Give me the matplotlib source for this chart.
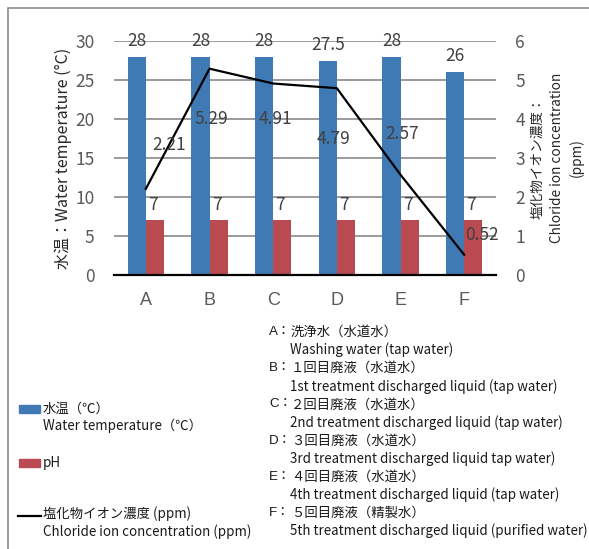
import matplotlib
matplotlib.use("Agg")
import matplotlib.pyplot as plt
from matplotlib.patches import Rectangle
from matplotlib.lines import Line2D
import numpy as np

plt.rcParams['font.family'] = ['Noto Sans CJK JP', 'DejaVu Sans']

# ---- data ----
categories = ['A', 'B', 'C', 'D', 'E', 'F']
water_temp = [28, 28, 28, 27.5, 28, 26]
ph_values = [7, 7, 7, 7, 7, 7]
chloride = [2.21, 5.29, 4.91, 4.79, 2.57, 0.52]

key_labels_jp = ['洗浄水（水道水）', '１回目廃液（水道水）', '２回目廃液（水道水）',
                 '３回目廃液（水道水）', '４回目廃液（水道水）', '５回目廃液（精製水）']
key_labels_en = ['Washing water (tap water)',
                 '1st treatment discharged liquid (tap water)',
                 '2nd treatment discharged liquid (tap water)',
                 '3rd treatment discharged liquid tap water)',
                 '4th treatment discharged liquid (tap water)',
                 '5th treatment discharged liquid (purified water)']

BLUE = '#3F7AB4'
RED = '#BA4A51'
GRAY_TXT = '#595959'
LBL_TXT = '#404040'

W, H = 589, 549
fig = plt.figure(figsize=(W / 100, H / 100), dpi=100)


def fx(px):
    return px / W


def fy(py):
    return 1 - py / H


# outer frame
fig.patches.append(Rectangle((fx(7.5), -0.05), 1.2, fy(8) + 0.05,
                             transform=fig.transFigure, fill=False,
                             edgecolor='#8c8c8c', linewidth=1.2))

ax = fig.add_axes([fx(114), fy(275), fx(496) - fx(114), fy(41) - fy(275)])
ax2 = ax.twinx()

x = np.arange(len(categories))
bw = 0.285
b1 = ax.bar(x - bw / 2, water_temp, bw, color=BLUE, zorder=3)
b2 = ax.bar(x + bw / 2, ph_values, bw, color=RED, zorder=3)

ax.set_xlim(-0.5, len(categories) - 0.5)
ax.set_ylim(0, 30)
ax.set_yticks(range(0, 31, 5))
ax.yaxis.grid(True, color='#808080', linewidth=1.1, zorder=0)
ax.set_axisbelow(True)
for s in ['top', 'right', 'left']:
    ax.spines[s].set_visible(False)
ax.spines['bottom'].set_color('black')
ax.spines['bottom'].set_linewidth(1.6)
ax.spines['bottom'].set_zorder(5)
ax.tick_params(axis='both', length=0, labelsize=12.5, labelcolor=GRAY_TXT)
ax.tick_params(axis='y', pad=14)
ax.tick_params(axis='x', pad=12)
ax.set_xticks(x)
ax.set_xticklabels(categories, family='Liberation Sans', fontsize=13)

ax.set_ylabel('水温：Water temperature (°C)', fontsize=11.5, color='#262626',
              labelpad=2.5)

for rect, v in zip(b1, water_temp):
    ax.annotate(f'{v:g}', (rect.get_x() + rect.get_width() / 2, v),
                xytext=(0, 16), textcoords='offset pixels', ha='center',
                va='center', fontsize=12.5, color=LBL_TXT, zorder=6)
for rect, v in zip(b2, ph_values):
    ax.annotate(f'{v:g}', (rect.get_x() + rect.get_width() / 2, v),
                xytext=(-2, 15), textcoords='offset pixels', ha='center',
                va='center', fontsize=12.5, color=LBL_TXT, zorder=6)

# chloride line on the secondary axis
ax2.plot(x, chloride, color='black', linewidth=1.6, zorder=4)
ax2.set_ylim(0, 6)
ax2.set_yticks(range(0, 7))
for s in ax2.spines.values():
    s.set_visible(False)
ax2.tick_params(axis='y', length=0, labelsize=12.5, labelcolor=GRAY_TXT, pad=14)
ax2.set_ylabel('塩化物イオン濃度：\nChloride ion concentration\n(ppm)',
               fontsize=9.8, color='#262626', linespacing=1.45, labelpad=4)

line_offsets = [(23, 44), (2, -50), (2, -35), (-3, -51), (2, 41), (18, 20)]
for xi, v, off in zip(x, chloride, line_offsets):
    ax2.annotate(f'{v:.2f}', (xi, v), xytext=off, textcoords='offset pixels',
                 ha='center', va='center', fontsize=12.5, color=LBL_TXT,
                 zorder=6)

EN_SIZE = 9.6
JP_SIZE = 9.6

# series key (bottom left)
fig.patches.append(Rectangle((fx(19), fy(413)), fx(21), fy(405) - fy(413),
                             transform=fig.transFigure, color=BLUE))
fig.text(fx(43), fy(409), '水温（℃）', fontsize=JP_SIZE, va='center', color='#1a1a1a')
fig.text(fx(43), fy(426), 'Water temperature（℃）', fontsize=EN_SIZE, va='center',
         color='#1a1a1a')
fig.patches.append(Rectangle((fx(19), fy(467)), fx(21), fy(459) - fy(467),
                             transform=fig.transFigure, color=RED))
fig.text(fx(43), fy(463), 'pH', fontsize=JP_SIZE, va='center', color='#1a1a1a')
fig.lines.append(Line2D([fx(18), fx(41)], [fy(516), fy(516)],
                        transform=fig.transFigure, color='black', linewidth=1.6))
fig.text(fx(43), fy(514), '塩化物イオン濃度 (ppm)', fontsize=JP_SIZE, va='center',
         color='#1a1a1a')
fig.text(fx(43), fy(532), 'Chloride ion concentration (ppm)', fontsize=EN_SIZE,
         va='center', color='#1a1a1a')

# category key (bottom right)
for i, (c, jp, en) in enumerate(zip(categories, key_labels_jp, key_labels_en)):
    y0 = 332 + i * 36.2
    fig.text(fx(269), fy(y0), f'{c}：', fontsize=JP_SIZE, va='center', color='#1a1a1a',
             family=['Liberation Sans', 'Noto Sans CJK JP'])
    fig.text(fx(291), fy(y0), jp, fontsize=JP_SIZE, va='center', color='#1a1a1a')
    fig.text(fx(290), fy(y0 + 18), en, fontsize=EN_SIZE, va='center', color='#1a1a1a')

fig.savefig('out.png', dpi=100)
